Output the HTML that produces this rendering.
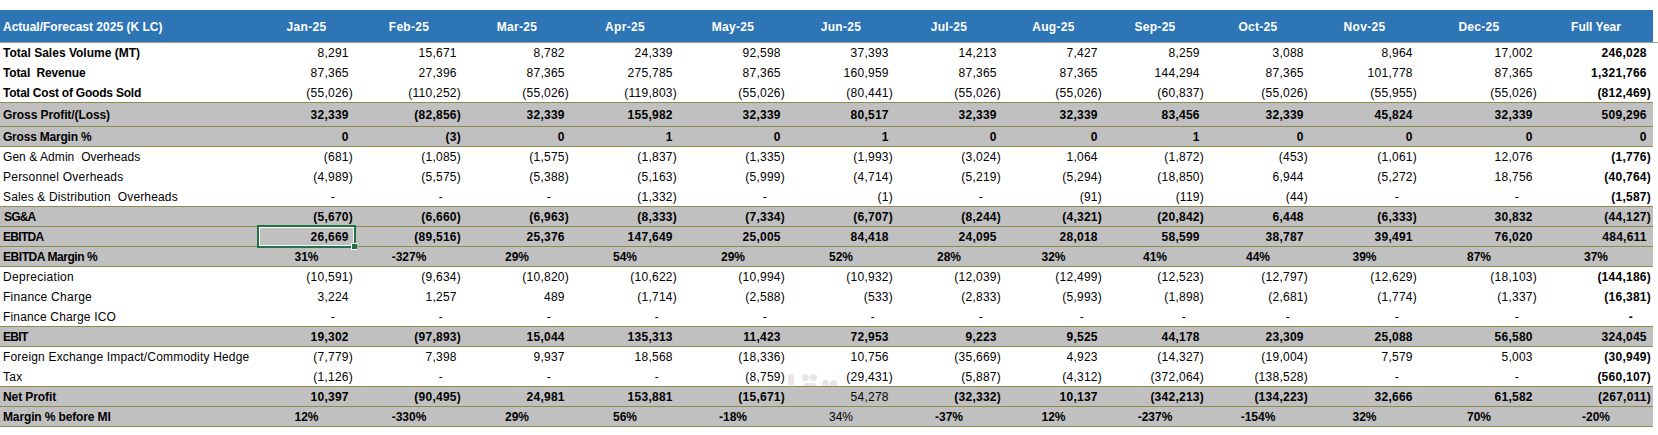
<!DOCTYPE html>
<html><head><meta charset="utf-8"><style>
html,body{margin:0;padding:0;background:#fff;}
body{width:1658px;height:435px;position:relative;overflow:hidden;font-family:"Liberation Sans",sans-serif;font-size:12px;color:#000;}
.r{position:absolute;left:0;width:1653px;}
.g{background:#c0c0c0;}
.ln{position:absolute;left:0;width:1653px;height:1px;background:#8f8a4e;}
.t{position:absolute;white-space:pre;line-height:14px;height:14px;}
.b{font-weight:bold;}
.n{text-align:right;letter-spacing:0.25px;}
.c{text-align:center;}
.h{visibility:hidden;}
.hd{position:absolute;left:0;top:10px;width:1653px;height:32px;background:#2e75b6;}
.hl{position:absolute;left:0;top:42px;width:1658px;height:1px;background:#a09f9a;}
.ht{color:#fff;font-weight:bold;}
</style></head><body>

<div class="hd"></div><div class="hl"></div>
<div class="t ht" style="left:3px;top:20px;letter-spacing:0px">Actual/Forecast 2025 (K LC)</div>
<div class="t ht c" style="left:258px;width:97px;top:20px;letter-spacing:0.3px">Jan-25</div>
<div class="t ht c" style="left:355px;width:108px;top:20px;letter-spacing:0.3px">Feb-25</div>
<div class="t ht c" style="left:463px;width:108px;top:20px;letter-spacing:0.3px">Mar-25</div>
<div class="t ht c" style="left:571px;width:108px;top:20px;letter-spacing:0.3px">Apr-25</div>
<div class="t ht c" style="left:679px;width:108px;top:20px;letter-spacing:0.3px">May-25</div>
<div class="t ht c" style="left:787px;width:108px;top:20px;letter-spacing:0.3px">Jun-25</div>
<div class="t ht c" style="left:895px;width:108px;top:20px;letter-spacing:0.3px">Jul-25</div>
<div class="t ht c" style="left:1003px;width:101px;top:20px;letter-spacing:0.3px">Aug-25</div>
<div class="t ht c" style="left:1104px;width:102px;top:20px;letter-spacing:0.3px">Sep-25</div>
<div class="t ht c" style="left:1206px;width:104px;top:20px;letter-spacing:0.3px">Oct-25</div>
<div class="t ht c" style="left:1310px;width:109px;top:20px;letter-spacing:0.3px">Nov-25</div>
<div class="t ht c" style="left:1419px;width:120px;top:20px;letter-spacing:0.3px">Dec-25</div>
<div class="t ht c" style="left:1539px;width:114px;top:20px;letter-spacing:0px">Full Year</div>
<div class="t b" style="left:3px;top:46px;letter-spacing:0.009px">Total Sales Volume (MT)</div>
<div class="t n" style="left:258px;width:95px;top:46px">8,291<span class="h">)</span></div>
<div class="t n" style="left:355px;width:106px;top:46px">15,671<span class="h">)</span></div>
<div class="t n" style="left:463px;width:106px;top:46px">8,782<span class="h">)</span></div>
<div class="t n" style="left:571px;width:106px;top:46px">24,339<span class="h">)</span></div>
<div class="t n" style="left:679px;width:106px;top:46px">92,598<span class="h">)</span></div>
<div class="t n" style="left:787px;width:106px;top:46px">37,393<span class="h">)</span></div>
<div class="t n" style="left:895px;width:106px;top:46px">14,213<span class="h">)</span></div>
<div class="t n" style="left:1003px;width:99px;top:46px">7,427<span class="h">)</span></div>
<div class="t n" style="left:1104px;width:100px;top:46px">8,259<span class="h">)</span></div>
<div class="t n" style="left:1206px;width:102px;top:46px">3,088<span class="h">)</span></div>
<div class="t n" style="left:1310px;width:107px;top:46px">8,964<span class="h">)</span></div>
<div class="t n" style="left:1419px;width:118px;top:46px">17,002<span class="h">)</span></div>
<div class="t b n" style="left:1539px;width:112px;top:46px">246,028<span class="h">)</span></div>
<div class="t b" style="left:3px;top:66px;letter-spacing:-0.139px">Total  Revenue</div>
<div class="t n" style="left:258px;width:95px;top:66px">87,365<span class="h">)</span></div>
<div class="t n" style="left:355px;width:106px;top:66px">27,396<span class="h">)</span></div>
<div class="t n" style="left:463px;width:106px;top:66px">87,365<span class="h">)</span></div>
<div class="t n" style="left:571px;width:106px;top:66px">275,785<span class="h">)</span></div>
<div class="t n" style="left:679px;width:106px;top:66px">87,365<span class="h">)</span></div>
<div class="t n" style="left:787px;width:106px;top:66px">160,959<span class="h">)</span></div>
<div class="t n" style="left:895px;width:106px;top:66px">87,365<span class="h">)</span></div>
<div class="t n" style="left:1003px;width:99px;top:66px">87,365<span class="h">)</span></div>
<div class="t n" style="left:1104px;width:100px;top:66px">144,294<span class="h">)</span></div>
<div class="t n" style="left:1206px;width:102px;top:66px">87,365<span class="h">)</span></div>
<div class="t n" style="left:1310px;width:107px;top:66px">101,778<span class="h">)</span></div>
<div class="t n" style="left:1419px;width:118px;top:66px">87,365<span class="h">)</span></div>
<div class="t b n" style="left:1539px;width:112px;top:66px">1,321,766<span class="h">)</span></div>
<div class="t b" style="left:3px;top:86px;letter-spacing:-0.208px">Total Cost of Goods Sold</div>
<div class="t n" style="left:258px;width:95px;top:86px">(55,026)</div>
<div class="t n" style="left:355px;width:106px;top:86px">(110,252)</div>
<div class="t n" style="left:463px;width:106px;top:86px">(55,026)</div>
<div class="t n" style="left:571px;width:106px;top:86px">(119,803)</div>
<div class="t n" style="left:679px;width:106px;top:86px">(55,026)</div>
<div class="t n" style="left:787px;width:106px;top:86px">(80,441)</div>
<div class="t n" style="left:895px;width:106px;top:86px">(55,026)</div>
<div class="t n" style="left:1003px;width:99px;top:86px">(55,026)</div>
<div class="t n" style="left:1104px;width:100px;top:86px">(60,837)</div>
<div class="t n" style="left:1206px;width:102px;top:86px">(55,026)</div>
<div class="t n" style="left:1310px;width:107px;top:86px">(55,955)</div>
<div class="t n" style="left:1419px;width:118px;top:86px">(55,026)</div>
<div class="t b n" style="left:1539px;width:112px;top:86px">(812,469)</div>
<div class="r g" style="top:102px;height:24px"></div>
<div class="t b" style="left:3px;top:108px;letter-spacing:-0.089px">Gross Profit/(Loss)</div>
<div class="t b n" style="left:258px;width:95px;top:108px">32,339<span class="h">)</span></div>
<div class="t b n" style="left:355px;width:106px;top:108px">(82,856)</div>
<div class="t b n" style="left:463px;width:106px;top:108px">32,339<span class="h">)</span></div>
<div class="t b n" style="left:571px;width:106px;top:108px">155,982<span class="h">)</span></div>
<div class="t b n" style="left:679px;width:106px;top:108px">32,339<span class="h">)</span></div>
<div class="t b n" style="left:787px;width:106px;top:108px">80,517<span class="h">)</span></div>
<div class="t b n" style="left:895px;width:106px;top:108px">32,339<span class="h">)</span></div>
<div class="t b n" style="left:1003px;width:99px;top:108px">32,339<span class="h">)</span></div>
<div class="t b n" style="left:1104px;width:100px;top:108px">83,456<span class="h">)</span></div>
<div class="t b n" style="left:1206px;width:102px;top:108px">32,339<span class="h">)</span></div>
<div class="t b n" style="left:1310px;width:107px;top:108px">45,824<span class="h">)</span></div>
<div class="t b n" style="left:1419px;width:118px;top:108px">32,339<span class="h">)</span></div>
<div class="t b n" style="left:1539px;width:112px;top:108px">509,296<span class="h">)</span></div>
<div class="r g" style="top:126px;height:20px"></div>
<div class="t b" style="left:3px;top:130px;letter-spacing:-0.216px">Gross Margin %</div>
<div class="t b n" style="left:258px;width:95px;top:130px">0<span class="h">)</span></div>
<div class="t b n" style="left:355px;width:106px;top:130px">(3)</div>
<div class="t b n" style="left:463px;width:106px;top:130px">0<span class="h">)</span></div>
<div class="t b n" style="left:571px;width:106px;top:130px">1<span class="h">)</span></div>
<div class="t b n" style="left:679px;width:106px;top:130px">0<span class="h">)</span></div>
<div class="t b n" style="left:787px;width:106px;top:130px">1<span class="h">)</span></div>
<div class="t b n" style="left:895px;width:106px;top:130px">0<span class="h">)</span></div>
<div class="t b n" style="left:1003px;width:99px;top:130px">0<span class="h">)</span></div>
<div class="t b n" style="left:1104px;width:100px;top:130px">1<span class="h">)</span></div>
<div class="t b n" style="left:1206px;width:102px;top:130px">0<span class="h">)</span></div>
<div class="t b n" style="left:1310px;width:107px;top:130px">0<span class="h">)</span></div>
<div class="t b n" style="left:1419px;width:118px;top:130px">0<span class="h">)</span></div>
<div class="t b n" style="left:1539px;width:112px;top:130px">0<span class="h">)</span></div>
<div class="t" style="left:3px;top:150px;letter-spacing:0.058px">Gen &amp; Admin  Overheads</div>
<div class="t n" style="left:258px;width:95px;top:150px">(681)</div>
<div class="t n" style="left:355px;width:106px;top:150px">(1,085)</div>
<div class="t n" style="left:463px;width:106px;top:150px">(1,575)</div>
<div class="t n" style="left:571px;width:106px;top:150px">(1,837)</div>
<div class="t n" style="left:679px;width:106px;top:150px">(1,335)</div>
<div class="t n" style="left:787px;width:106px;top:150px">(1,993)</div>
<div class="t n" style="left:895px;width:106px;top:150px">(3,024)</div>
<div class="t n" style="left:1003px;width:99px;top:150px">1,064<span class="h">)</span></div>
<div class="t n" style="left:1104px;width:100px;top:150px">(1,872)</div>
<div class="t n" style="left:1206px;width:102px;top:150px">(453)</div>
<div class="t n" style="left:1310px;width:107px;top:150px">(1,061)</div>
<div class="t n" style="left:1419px;width:118px;top:150px">12,076<span class="h">)</span></div>
<div class="t b n" style="left:1539px;width:112px;top:150px">(1,776)</div>
<div class="t" style="left:3px;top:170px;letter-spacing:0.233px">Personnel Overheads</div>
<div class="t n" style="left:258px;width:95px;top:170px">(4,989)</div>
<div class="t n" style="left:355px;width:106px;top:170px">(5,575)</div>
<div class="t n" style="left:463px;width:106px;top:170px">(5,388)</div>
<div class="t n" style="left:571px;width:106px;top:170px">(5,163)</div>
<div class="t n" style="left:679px;width:106px;top:170px">(5,999)</div>
<div class="t n" style="left:787px;width:106px;top:170px">(4,714)</div>
<div class="t n" style="left:895px;width:106px;top:170px">(5,219)</div>
<div class="t n" style="left:1003px;width:99px;top:170px">(5,294)</div>
<div class="t n" style="left:1104px;width:100px;top:170px">(18,850)</div>
<div class="t n" style="left:1206px;width:102px;top:170px">6,944<span class="h">)</span></div>
<div class="t n" style="left:1310px;width:107px;top:170px">(5,272)</div>
<div class="t n" style="left:1419px;width:118px;top:170px">18,756<span class="h">)</span></div>
<div class="t b n" style="left:1539px;width:112px;top:170px">(40,764)</div>
<div class="t" style="left:3px;top:190px;letter-spacing:0.153px">Sales &amp; Distribution  Overheads</div>
<div class="t n" style="left:258px;width:95px;top:190px">-<span class="h">00)</span></div>
<div class="t n" style="left:355px;width:106px;top:190px">-<span class="h">00)</span></div>
<div class="t n" style="left:463px;width:106px;top:190px">-<span class="h">00)</span></div>
<div class="t n" style="left:571px;width:106px;top:190px">(1,332)</div>
<div class="t n" style="left:679px;width:106px;top:190px">-<span class="h">00)</span></div>
<div class="t n" style="left:787px;width:106px;top:190px">(1)</div>
<div class="t n" style="left:895px;width:106px;top:190px">-<span class="h">00)</span></div>
<div class="t n" style="left:1003px;width:99px;top:190px">(91)</div>
<div class="t n" style="left:1104px;width:100px;top:190px">(119)</div>
<div class="t n" style="left:1206px;width:102px;top:190px">(44)</div>
<div class="t n" style="left:1310px;width:107px;top:190px">-<span class="h">00)</span></div>
<div class="t n" style="left:1419px;width:118px;top:190px">-<span class="h">00)</span></div>
<div class="t b n" style="left:1539px;width:112px;top:190px">(1,587)</div>
<div class="r g" style="top:206px;height:20px"></div>
<div class="t b" style="left:4px;top:210px;letter-spacing:-0.8px">SG&amp;A</div>
<div class="t b n" style="left:258px;width:95px;top:210px">(5,670)</div>
<div class="t b n" style="left:355px;width:106px;top:210px">(6,660)</div>
<div class="t b n" style="left:463px;width:106px;top:210px">(6,963)</div>
<div class="t b n" style="left:571px;width:106px;top:210px">(8,333)</div>
<div class="t b n" style="left:679px;width:106px;top:210px">(7,334)</div>
<div class="t b n" style="left:787px;width:106px;top:210px">(6,707)</div>
<div class="t b n" style="left:895px;width:106px;top:210px">(8,244)</div>
<div class="t b n" style="left:1003px;width:99px;top:210px">(4,321)</div>
<div class="t b n" style="left:1104px;width:100px;top:210px">(20,842)</div>
<div class="t b n" style="left:1206px;width:102px;top:210px">6,448<span class="h">)</span></div>
<div class="t b n" style="left:1310px;width:107px;top:210px">(6,333)</div>
<div class="t b n" style="left:1419px;width:118px;top:210px">30,832<span class="h">)</span></div>
<div class="t b n" style="left:1539px;width:112px;top:210px">(44,127)</div>
<div class="r g" style="top:226px;height:20px"></div>
<div class="t b" style="left:3px;top:230px;letter-spacing:-0.7px">EBITDA</div>
<div class="t b n" style="left:258px;width:95px;top:230px">26,669<span class="h">)</span></div>
<div class="t b n" style="left:355px;width:106px;top:230px">(89,516)</div>
<div class="t b n" style="left:463px;width:106px;top:230px">25,376<span class="h">)</span></div>
<div class="t b n" style="left:571px;width:106px;top:230px">147,649<span class="h">)</span></div>
<div class="t b n" style="left:679px;width:106px;top:230px">25,005<span class="h">)</span></div>
<div class="t b n" style="left:787px;width:106px;top:230px">84,418<span class="h">)</span></div>
<div class="t b n" style="left:895px;width:106px;top:230px">24,095<span class="h">)</span></div>
<div class="t b n" style="left:1003px;width:99px;top:230px">28,018<span class="h">)</span></div>
<div class="t b n" style="left:1104px;width:100px;top:230px">58,599<span class="h">)</span></div>
<div class="t b n" style="left:1206px;width:102px;top:230px">38,787<span class="h">)</span></div>
<div class="t b n" style="left:1310px;width:107px;top:230px">39,491<span class="h">)</span></div>
<div class="t b n" style="left:1419px;width:118px;top:230px">76,020<span class="h">)</span></div>
<div class="t b n" style="left:1539px;width:112px;top:230px">484,611<span class="h">)</span></div>
<div class="r g" style="top:246px;height:20px"></div>
<div class="t b" style="left:3px;top:250px;letter-spacing:-0.443px">EBITDA Margin %</div>
<div class="t b c" style="left:258px;width:97px;top:250px">31%</div>
<div class="t b c" style="left:355px;width:108px;top:250px">-327%</div>
<div class="t b c" style="left:463px;width:108px;top:250px">29%</div>
<div class="t b c" style="left:571px;width:108px;top:250px">54%</div>
<div class="t b c" style="left:679px;width:108px;top:250px">29%</div>
<div class="t b c" style="left:787px;width:108px;top:250px">52%</div>
<div class="t b c" style="left:895px;width:108px;top:250px">28%</div>
<div class="t b c" style="left:1003px;width:101px;top:250px">32%</div>
<div class="t b c" style="left:1104px;width:102px;top:250px">41%</div>
<div class="t b c" style="left:1206px;width:104px;top:250px">44%</div>
<div class="t b c" style="left:1310px;width:109px;top:250px">39%</div>
<div class="t b c" style="left:1419px;width:120px;top:250px">87%</div>
<div class="t b c" style="left:1539px;width:114px;top:250px">37%</div>
<div class="t" style="left:3px;top:270px;letter-spacing:0.309px">Depreciation</div>
<div class="t n" style="left:258px;width:95px;top:270px">(10,591)</div>
<div class="t n" style="left:355px;width:106px;top:270px">(9,634)</div>
<div class="t n" style="left:463px;width:106px;top:270px">(10,820)</div>
<div class="t n" style="left:571px;width:106px;top:270px">(10,622)</div>
<div class="t n" style="left:679px;width:106px;top:270px">(10,994)</div>
<div class="t n" style="left:787px;width:106px;top:270px">(10,932)</div>
<div class="t n" style="left:895px;width:106px;top:270px">(12,039)</div>
<div class="t n" style="left:1003px;width:99px;top:270px">(12,499)</div>
<div class="t n" style="left:1104px;width:100px;top:270px">(12,523)</div>
<div class="t n" style="left:1206px;width:102px;top:270px">(12,797)</div>
<div class="t n" style="left:1310px;width:107px;top:270px">(12,629)</div>
<div class="t n" style="left:1419px;width:118px;top:270px">(18,103)</div>
<div class="t b n" style="left:1539px;width:112px;top:270px">(144,186)</div>
<div class="t" style="left:3px;top:290px;letter-spacing:0.262px">Finance Charge</div>
<div class="t n" style="left:258px;width:95px;top:290px">3,224<span class="h">)</span></div>
<div class="t n" style="left:355px;width:106px;top:290px">1,257<span class="h">)</span></div>
<div class="t n" style="left:463px;width:106px;top:290px">489<span class="h">)</span></div>
<div class="t n" style="left:571px;width:106px;top:290px">(1,714)</div>
<div class="t n" style="left:679px;width:106px;top:290px">(2,588)</div>
<div class="t n" style="left:787px;width:106px;top:290px">(533)</div>
<div class="t n" style="left:895px;width:106px;top:290px">(2,833)</div>
<div class="t n" style="left:1003px;width:99px;top:290px">(5,993)</div>
<div class="t n" style="left:1104px;width:100px;top:290px">(1,898)</div>
<div class="t n" style="left:1206px;width:102px;top:290px">(2,681)</div>
<div class="t n" style="left:1310px;width:107px;top:290px">(1,774)</div>
<div class="t n" style="left:1419px;width:118px;top:290px">(1,337)</div>
<div class="t b n" style="left:1539px;width:112px;top:290px">(16,381)</div>
<div class="t" style="left:3px;top:310px;letter-spacing:0.164px">Finance Charge ICO</div>
<div class="t n" style="left:258px;width:95px;top:310px">-<span class="h">00)</span></div>
<div class="t n" style="left:355px;width:106px;top:310px">-<span class="h">00)</span></div>
<div class="t n" style="left:463px;width:106px;top:310px">-<span class="h">00)</span></div>
<div class="t n" style="left:571px;width:106px;top:310px">-<span class="h">00)</span></div>
<div class="t n" style="left:679px;width:106px;top:310px">-<span class="h">00)</span></div>
<div class="t n" style="left:787px;width:106px;top:310px">-<span class="h">00)</span></div>
<div class="t n" style="left:895px;width:106px;top:310px">-<span class="h">00)</span></div>
<div class="t n" style="left:1003px;width:99px;top:310px">-<span class="h">00)</span></div>
<div class="t n" style="left:1104px;width:100px;top:310px">-<span class="h">00)</span></div>
<div class="t n" style="left:1206px;width:102px;top:310px">-<span class="h">00)</span></div>
<div class="t n" style="left:1310px;width:107px;top:310px">-<span class="h">00)</span></div>
<div class="t n" style="left:1419px;width:118px;top:310px">-<span class="h">00)</span></div>
<div class="t b n" style="left:1539px;width:112px;top:310px">-<span class="h">00)</span></div>
<div class="r g" style="top:326px;height:20px"></div>
<div class="t b" style="left:3px;top:330px;letter-spacing:-0.7px">EBIT</div>
<div class="t b n" style="left:258px;width:95px;top:330px">19,302<span class="h">)</span></div>
<div class="t b n" style="left:355px;width:106px;top:330px">(97,893)</div>
<div class="t b n" style="left:463px;width:106px;top:330px">15,044<span class="h">)</span></div>
<div class="t b n" style="left:571px;width:106px;top:330px">135,313<span class="h">)</span></div>
<div class="t b n" style="left:679px;width:106px;top:330px">11,423<span class="h">)</span></div>
<div class="t b n" style="left:787px;width:106px;top:330px">72,953<span class="h">)</span></div>
<div class="t b n" style="left:895px;width:106px;top:330px">9,223<span class="h">)</span></div>
<div class="t b n" style="left:1003px;width:99px;top:330px">9,525<span class="h">)</span></div>
<div class="t b n" style="left:1104px;width:100px;top:330px">44,178<span class="h">)</span></div>
<div class="t b n" style="left:1206px;width:102px;top:330px">23,309<span class="h">)</span></div>
<div class="t b n" style="left:1310px;width:107px;top:330px">25,088<span class="h">)</span></div>
<div class="t b n" style="left:1419px;width:118px;top:330px">56,580<span class="h">)</span></div>
<div class="t b n" style="left:1539px;width:112px;top:330px">324,045<span class="h">)</span></div>
<div class="t" style="left:3px;top:350px;letter-spacing:0.179px">Foreign Exchange Impact/Commodity Hedge</div>
<div class="t n" style="left:258px;width:95px;top:350px">(7,779)</div>
<div class="t n" style="left:355px;width:106px;top:350px">7,398<span class="h">)</span></div>
<div class="t n" style="left:463px;width:106px;top:350px">9,937<span class="h">)</span></div>
<div class="t n" style="left:571px;width:106px;top:350px">18,568<span class="h">)</span></div>
<div class="t n" style="left:679px;width:106px;top:350px">(18,336)</div>
<div class="t n" style="left:787px;width:106px;top:350px">10,756<span class="h">)</span></div>
<div class="t n" style="left:895px;width:106px;top:350px">(35,669)</div>
<div class="t n" style="left:1003px;width:99px;top:350px">4,923<span class="h">)</span></div>
<div class="t n" style="left:1104px;width:100px;top:350px">(14,327)</div>
<div class="t n" style="left:1206px;width:102px;top:350px">(19,004)</div>
<div class="t n" style="left:1310px;width:107px;top:350px">7,579<span class="h">)</span></div>
<div class="t n" style="left:1419px;width:118px;top:350px">5,003<span class="h">)</span></div>
<div class="t b n" style="left:1539px;width:112px;top:350px">(30,949)</div>
<div class="t" style="left:3px;top:370px;letter-spacing:0.3px">Tax</div>
<div class="t n" style="left:258px;width:95px;top:370px">(1,126)</div>
<div class="t n" style="left:355px;width:106px;top:370px">-<span class="h">00)</span></div>
<div class="t n" style="left:463px;width:106px;top:370px">-<span class="h">00)</span></div>
<div class="t n" style="left:571px;width:106px;top:370px">-<span class="h">00)</span></div>
<div class="t n" style="left:679px;width:106px;top:370px">(8,759)</div>
<div class="t n" style="left:787px;width:106px;top:370px">(29,431)</div>
<div class="t n" style="left:895px;width:106px;top:370px">(5,887)</div>
<div class="t n" style="left:1003px;width:99px;top:370px">(4,312)</div>
<div class="t n" style="left:1104px;width:100px;top:370px">(372,064)</div>
<div class="t n" style="left:1206px;width:102px;top:370px">(138,528)</div>
<div class="t n" style="left:1310px;width:107px;top:370px">-<span class="h">00)</span></div>
<div class="t n" style="left:1419px;width:118px;top:370px">-<span class="h">00)</span></div>
<div class="t b n" style="left:1539px;width:112px;top:370px">(560,107)</div>
<div class="r g" style="top:386px;height:20px"></div>
<div class="t b" style="left:3px;top:390px;letter-spacing:-0.089px">Net Profit</div>
<div class="t b n" style="left:258px;width:95px;top:390px">10,397<span class="h">)</span></div>
<div class="t b n" style="left:355px;width:106px;top:390px">(90,495)</div>
<div class="t b n" style="left:463px;width:106px;top:390px">24,981<span class="h">)</span></div>
<div class="t b n" style="left:571px;width:106px;top:390px">153,881<span class="h">)</span></div>
<div class="t b n" style="left:679px;width:106px;top:390px">(15,671)</div>
<div class="t n" style="left:787px;width:106px;top:390px">54,278<span class="h">)</span></div>
<div class="t b n" style="left:895px;width:106px;top:390px">(32,332)</div>
<div class="t b n" style="left:1003px;width:99px;top:390px">10,137<span class="h">)</span></div>
<div class="t b n" style="left:1104px;width:100px;top:390px">(342,213)</div>
<div class="t b n" style="left:1206px;width:102px;top:390px">(134,223)</div>
<div class="t b n" style="left:1310px;width:107px;top:390px">32,666<span class="h">)</span></div>
<div class="t b n" style="left:1419px;width:118px;top:390px">61,582<span class="h">)</span></div>
<div class="t b n" style="left:1539px;width:112px;top:390px">(267,011)</div>
<div class="r g" style="top:406px;height:20px"></div>
<div class="t b" style="left:3px;top:410px;letter-spacing:-0.129px">Margin % before MI</div>
<div class="t b c" style="left:258px;width:97px;top:410px">12%</div>
<div class="t b c" style="left:355px;width:108px;top:410px">-330%</div>
<div class="t b c" style="left:463px;width:108px;top:410px">29%</div>
<div class="t b c" style="left:571px;width:108px;top:410px">56%</div>
<div class="t b c" style="left:679px;width:108px;top:410px">-18%</div>
<div class="t c" style="left:787px;width:108px;top:410px">34%</div>
<div class="t b c" style="left:895px;width:108px;top:410px">-37%</div>
<div class="t b c" style="left:1003px;width:101px;top:410px">12%</div>
<div class="t b c" style="left:1104px;width:102px;top:410px">-237%</div>
<div class="t b c" style="left:1206px;width:104px;top:410px">-154%</div>
<div class="t b c" style="left:1310px;width:109px;top:410px">32%</div>
<div class="t b c" style="left:1419px;width:120px;top:410px">70%</div>
<div class="t b c" style="left:1539px;width:114px;top:410px">-20%</div>
<div class="ln" style="top:102px"></div>
<div class="ln" style="top:126px"></div>
<div class="ln" style="top:146px"></div>
<div class="ln" style="top:206px"></div>
<div class="ln" style="top:226px"></div>
<div class="ln" style="top:246px"></div>
<div class="ln" style="top:266px"></div>
<div class="ln" style="top:326px"></div>
<div class="ln" style="top:346px"></div>
<div class="ln" style="top:386px"></div>
<div class="ln" style="top:406px"></div>
<div class="ln" style="top:426px"></div>
<div style="position:absolute;left:257px;top:225px;width:95px;height:19px;border:2px solid #217346;"></div>
<div style="position:absolute;left:259px;top:227px;width:93px;height:17px;border:1px solid #fff;"></div>
<div style="position:absolute;left:351px;top:243px;width:6px;height:7px;background:#fff;"></div>
<div style="position:absolute;left:352px;top:244px;width:5px;height:5px;background:#217346;"></div>
<div style="position:absolute;left:788px;top:374px;width:6px;height:11px;background:#e9e5e5;border-radius:3px 3px 0 0;"></div>
<div style="position:absolute;left:802px;top:374px;width:7px;height:7px;background:#e9e5e5;border-radius:50%;"></div>
<div style="position:absolute;left:810px;top:374px;width:7px;height:7px;background:#e9e5e5;border-radius:50%;"></div>
<div style="position:absolute;left:804px;top:383px;width:12px;height:3px;background:#e9e5e5;border-radius:3px 3px 0 0;"></div>
<div style="position:absolute;left:822px;top:380px;width:7px;height:6px;background:#e9e5e5;border-radius:4px 4px 0 0;"></div>
<div style="position:absolute;left:830px;top:380px;width:7px;height:6px;background:#e9e5e5;border-radius:4px 4px 0 0;"></div>
</body></html>
